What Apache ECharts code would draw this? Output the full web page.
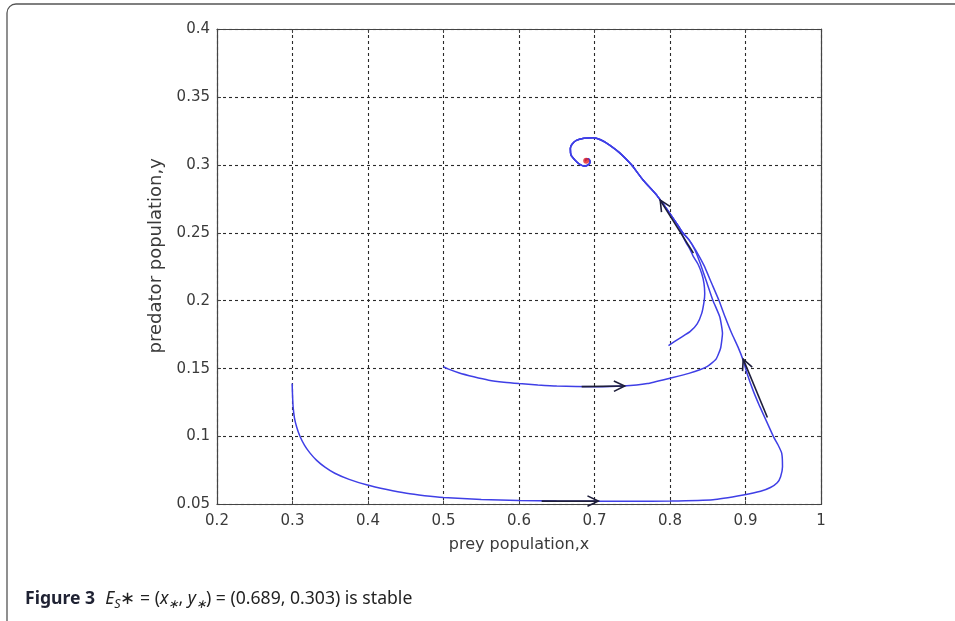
<!DOCTYPE html>
<html>
<head>
<meta charset="utf-8">
<script src="https://cdn.jsdelivr.net/npm/echarts@6/dist/echarts.min.js"></script>
<style>
  html, body { margin: 0; padding: 0; background: #fff; }
  #chart { width: 955px; height: 621px; }
</style>
</head>
<body>
<div id="chart"></div>
<script>
// Phase-plane trajectories [x, y] of the prey–predator system
const trajectoryFromLow = [
  [0.2995,0.139],[0.3,0.131],[0.3008,0.122],[0.3025,0.114],[0.3055,0.107],[0.31,0.1],
  [0.316,0.0935],[0.323,0.088],[0.332,0.0825],[0.343,0.0775],[0.356,0.073],[0.375,0.0685],
  [0.398,0.0645],[0.425,0.061],[0.451,0.0582],[0.475,0.0565],[0.5,0.0552],[0.55,0.0537],
  [0.6,0.0529],[0.65,0.0525],[0.7,0.0524],[0.75,0.0524],[0.8,0.0525],[0.857,0.0535],
  [0.897,0.057],[0.92,0.0597],[0.933,0.0625],[0.942,0.066],[0.9465,0.0705],[0.949,0.0778],
  [0.948,0.0877],[0.943,0.094],[0.937,0.1],[0.928,0.111],[0.919,0.122],[0.91,0.134],
  [0.902,0.1466],[0.897,0.156],[0.89,0.166],[0.8817,0.176],[0.873,0.188],[0.865,0.2],
  [0.855,0.213],[0.845,0.226],[0.834,0.2373],[0.825,0.245],[0.817,0.25],[0.811,0.255],
  [0.8,0.264],[0.782,0.278],[0.764,0.289],[0.749,0.3],[0.733,0.309],[0.72,0.3146],
  [0.708,0.3185],[0.698,0.32],[0.686,0.3195],[0.676,0.318],[0.67,0.315],[0.668,0.312],
  [0.669,0.307],[0.674,0.3036],[0.68,0.3005],[0.687,0.299],[0.692,0.3002],[0.694,0.302],
  [0.693,0.304],[0.69,0.3045],[0.688,0.3035],[0.689,0.303]
];
const trajectoryFromMid = [
  [0.4998,0.1514],[0.505,0.15],[0.52,0.147],[0.54,0.144],[0.56,0.1415],[0.58,0.14],
  [0.6,0.139],[0.625,0.138],[0.65,0.1372],[0.7,0.1367],[0.738,0.1372],[0.77,0.139],
  [0.8,0.143],[0.825,0.1465],[0.849,0.1515],[0.861,0.157],[0.867,0.165],[0.8695,0.176],
  [0.866,0.188],[0.857,0.2],[0.849,0.213],[0.84,0.2275],[0.833,0.2373],[0.825,0.245],
  [0.817,0.25],[0.811,0.255],[0.8,0.264],[0.782,0.278],[0.764,0.289],[0.749,0.3],
  [0.733,0.309],[0.72,0.3146],[0.708,0.3185],[0.698,0.32],[0.686,0.3195],[0.676,0.318],
  [0.67,0.315],[0.668,0.312],[0.669,0.307],[0.674,0.3036],[0.68,0.3005],[0.687,0.299],
  [0.692,0.3002],[0.694,0.302],[0.693,0.304],[0.69,0.3045],[0.688,0.3035],[0.689,0.303]
];
const trajectoryFromInner = [
  [0.798,0.167],[0.8132,0.1725],[0.8265,0.1772],[0.836,0.183],[0.842,0.1907],[0.845,0.199],
  [0.846,0.2054],[0.845,0.2128],[0.842,0.22],[0.837,0.227],[0.831,0.2324],[0.827,0.2373],
  [0.82,0.244],[0.811,0.255],[0.8,0.264],[0.782,0.278],[0.764,0.289],[0.749,0.3],
  [0.733,0.309],[0.72,0.3146],[0.708,0.3185],[0.698,0.32],[0.686,0.3195],[0.676,0.318],
  [0.67,0.315],[0.668,0.312],[0.669,0.307],[0.674,0.3036],[0.68,0.3005],[0.687,0.299],
  [0.692,0.3002],[0.694,0.302],[0.693,0.304],[0.69,0.3045],[0.688,0.3035],[0.689,0.303]
];
// Direction arrows: [xFrom, yFrom, xTo, yTo]
const directionArrows = [
  [0.63, 0.0525, 0.705, 0.0525],
  [0.683, 0.1368, 0.74, 0.1372],
  [0.929, 0.114, 0.897, 0.157],
  [0.831, 0.235, 0.787, 0.274]
];
// Interior equilibrium E_S*
const equilibrium = [[0.689, 0.303]];

const xTicks = { min: 0.2, max: 1, interval: 0.1 };
const yTicks = { min: 0.05, max: 0.4, interval: 0.05 };

const chart = echarts.init(document.getElementById('chart'), null, { renderer: 'canvas' });

const tickFont = { fontFamily: 'DejaVu Sans', fontSize: 15, color: '#3a3a3a' };
const gridLine = { show: true, lineStyle: { color: '#2a2a2a', type: [3, 3], width: 1.1 } };
const boxLine = { show: true, onZero: false, lineStyle: { color: '#444', width: 1.2 } };
const inTick = { show: true, inside: true, length: 4, lineStyle: { color: '#444' } };

function renderArrow(params, api) {
  const p0 = api.coord([api.value(0), api.value(1)]);
  const p1 = api.coord([api.value(2), api.value(3)]);
  const a = Math.atan2(p1[1] - p0[1], p1[0] - p0[0]);
  const L = 12, t = 0.45;
  const b1 = [p1[0] - L * Math.cos(a - t), p1[1] - L * Math.sin(a - t)];
  const b2 = [p1[0] - L * Math.cos(a + t), p1[1] - L * Math.sin(a + t)];
  const style = { stroke: '#1e1e3a', lineWidth: 1.6, fill: null };
  return {
    type: 'group',
    children: [
      { type: 'line', shape: { x1: p0[0], y1: p0[1], x2: p1[0], y2: p1[1] }, style },
      { type: 'polyline', shape: { points: [b1, p1, b2] }, style }
    ]
  };
}

const trajStyle = {
  type: 'line', showSymbol: false, smooth: 0.15, silent: true,
  lineStyle: { color: '#3f3fe6', width: 1.5 }, z: 3
};

const capBase = { fontFamily: 'Noto Sans', fontSize: 17.6, color: '#222', fontWeight: 'normal', lineHeight: 24 };

chart.setOption({
  animation: false,
  backgroundColor: '#fff',
  grid: { left: 217, right: 134, top: 29, bottom: 116.5, containLabel: false },
  title: {
    left: 20, top: 582,
    text: '{b|Figure 3}  {i|E}{sub|S}{n|∗ = (}{i|x}{sub|∗}{n|, }{i|y}{sub|∗}{n|) = (0.689, 0.303) is stable}',
    textStyle: {
      fontWeight: 'normal',
      rich: {
        b: { ...capBase, fontWeight: 'bold', color: '#1f2233' },
        n: { ...capBase },
        i: { ...capBase, fontStyle: 'italic' },
        sub: { ...capBase, fontStyle: 'italic', fontSize: 12.5, lineHeight: 14, verticalAlign: 'bottom' }
      }
    }
  },
  graphic: [{
    type: 'rect', silent: true, z: 0,
    shape: { x: 7, y: 4, width: 970, height: 640, r: 9 },
    style: { fill: null, stroke: '#555', lineWidth: 1.3 }
  }],
  xAxis: [{
    type: 'value', position: 'bottom', ...xTicks,
    name: 'prey population,x', nameLocation: 'middle', nameGap: 32,
    nameTextStyle: { fontFamily: 'DejaVu Sans', fontSize: 16, color: '#3a3a3a' },
    axisLine: boxLine, axisTick: inTick, splitLine: gridLine,
    axisLabel: { ...tickFont, margin: 9 }
  }, {
    type: 'value', position: 'top', ...xTicks,
    axisLine: boxLine, axisTick: inTick, splitLine: { show: false }, axisLabel: { show: false }
  }],
  yAxis: [{
    type: 'value', position: 'left', ...yTicks,
    name: 'predator population,y', nameLocation: 'middle', nameGap: 52,
    nameTextStyle: { fontFamily: 'DejaVu Sans', fontSize: 18, color: '#3a3a3a', padding: [0, 0, 0, 22] },
    axisLine: boxLine, axisTick: inTick, splitLine: gridLine,
    axisLabel: { ...tickFont, margin: 7 }
  }, {
    type: 'value', position: 'right', ...yTicks,
    axisLine: boxLine, axisTick: inTick, splitLine: { show: false }, axisLabel: { show: false }
  }],
  series: [
    { ...trajStyle, name: 'low start', data: trajectoryFromLow },
    { ...trajStyle, name: 'mid start', data: trajectoryFromMid },
    { ...trajStyle, name: 'inner start', data: trajectoryFromInner },
    {
      type: 'custom', name: 'direction', renderItem: renderArrow, silent: true, z: 4,
      data: directionArrows
    },
    {
      type: 'scatter', name: 'equilibrium', data: equilibrium, symbolSize: 6, silent: true, z: 5,
      itemStyle: { color: '#e52222' }
    }
  ]
});
</script>
</body>
</html>
